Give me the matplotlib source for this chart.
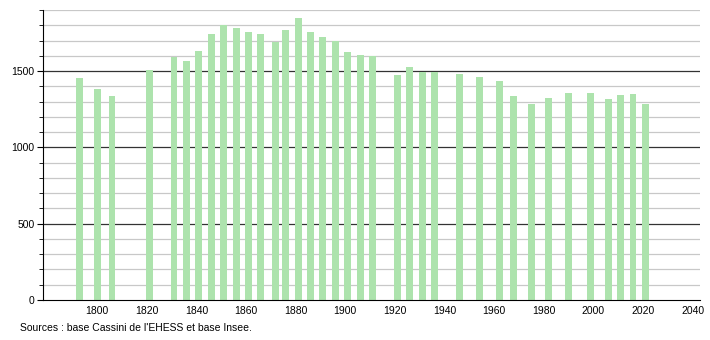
import matplotlib
matplotlib.use('Agg')
import matplotlib.pyplot as plt
from matplotlib.ticker import MultipleLocator

plt.rcParams['font.family'] = ['Liberation Sans', 'DejaVu Sans']

# Population by census year
years = [1793, 1800, 1806, 1821, 1831, 1836, 1841, 1846, 1851, 1856,
         1861, 1866, 1872, 1876, 1881, 1886, 1891, 1896, 1901, 1906,
         1911, 1921, 1926, 1931, 1936, 1946, 1954, 1962, 1968, 1975,
         1982, 1990, 1999, 2006, 2011, 2016, 2021]
population = [1452, 1382, 1336, 1507, 1590, 1566, 1632, 1743, 1800, 1785,
              1757, 1743, 1691, 1768, 1849, 1757, 1722, 1700, 1625, 1605,
              1601, 1474, 1528, 1496, 1496, 1480, 1458, 1432, 1338, 1287,
              1322, 1353, 1353, 1316, 1340, 1347, 1281]
x_ticks = list(range(1800, 2041, 20))
y_ticks = [0, 500, 1000, 1500]

fig = plt.figure(figsize=(7.1, 3.4), dpi=100)
ax = fig.add_axes([43 / 710, 40 / 340, 657 / 710, 290 / 340])

# grid: grey every 100, black every 500
for v in range(100, 1901, 100):
    if v % 500 == 0:
        ax.axhline(v, color='#333333', lw=0.9, zorder=1)
    else:
        ax.axhline(v, color='#c8c8c8', lw=0.9, zorder=1)

ax.bar(years, population, width=2.8, color='#ade3ad', zorder=2)

ax.set_xlim(1778.2, 2043)
ax.set_ylim(0, 1900)
ax.set_xticks(x_ticks)
ax.set_yticks(y_ticks)
ax.yaxis.set_minor_locator(MultipleLocator(100))
ax.tick_params(axis='x', length=0, labelsize=7.5, pad=4)
ax.tick_params(axis='y', which='major', length=4, labelsize=7.5, pad=2)
ax.tick_params(axis='y', which='minor', length=3)

for side in ['top', 'right']:
    ax.spines[side].set_visible(False)
ax.spines['left'].set_color('black')
ax.spines['bottom'].set_color('black')

fig.text(20 / 710, 1 - 328 / 340, "Sources : base Cassini de l'EHESS et base Insee.",
         fontsize=7.5, va='center', ha='left')

fig.savefig('out.png', dpi=100)
